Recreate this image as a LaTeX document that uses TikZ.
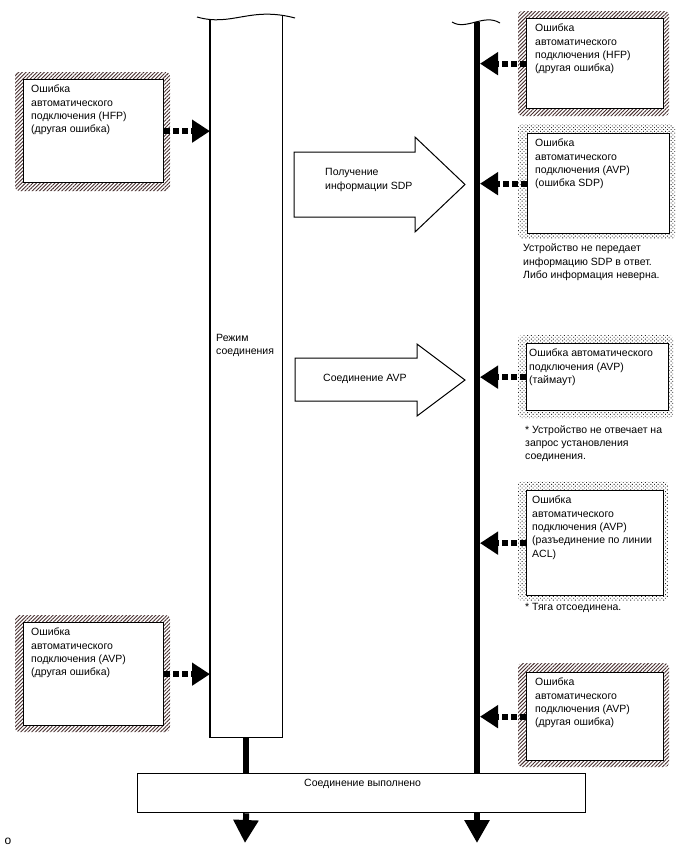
\documentclass[tikz,border=0pt]{standalone}
\usepackage{fontspec}
\setmainfont{Liberation Sans}
\usetikzlibrary{arrows.meta,patterns.meta,calc}
\definecolor{hatchc}{RGB}{70,45,45}
\begin{document}
\begin{tikzpicture}[x=1pt,y=-1pt,
  every node/.style={font=\fontsize{10.5}{13.3}\selectfont},
  ebox/.style={draw, line width=1.3pt, fill=white, anchor=north west, inner sep=0pt},
  txt/.style={anchor=north west, inner sep=0pt, align=left},
  hatch/.style={pattern={Lines[angle=45,distance=2.6pt,line width=0.9pt]}, pattern color=hatchc, rounded corners=4pt},
  dotfill/.style={pattern={Dots[angle=45,distance=2.6pt,radius=0.65pt]}, pattern color=black!85, rounded corners=4pt},
  dasharrow/.style={line width=6pt, dash pattern=on 6pt off 3pt, -{Triangle[length=18pt,width=22pt]}},
  thick line/.style={line width=6pt},
  downarrow/.style={line width=6pt, -{Triangle[length=23pt,width=24pt]}},
  bigarrow/.style={draw, line width=1pt, fill=white}
]
\useasboundingbox (0,0) rectangle (688,852);

% ---- mode column
\node[anchor=north west, inner sep=0pt, minimum width=72pt, minimum height=717pt] (mode) at (210,20) {};
\draw[line width=1.3pt] (mode.north west) -- (mode.south west) -- (mode.south east) -- ($(mode.north east)+(0,-5)$);
\draw[line width=1pt] (197,17) .. controls (232,27) and (250,6) .. (295,18);
\node[txt] (modet) at (216,334) {Режим\\соединения};

% ---- right thick line
\coordinate (rtop) at (477,22);
\coordinate (rl) at (480,0);
\draw[line width=1pt] (452,22) .. controls (466,31) and (484,13) .. (500,23);

% ---- bottom box
\node[ebox, minimum width=448pt, minimum height=39pt] (done) at (137,773) {};
\node[anchor=north, inner sep=0pt] (donet) at ($(done.north)+(1,6)$) {Соединение выполнено};

\draw[thick line] (mode.south) -- (mode.south |- done.north);
\draw[thick line] (rtop) -- (rtop |- done.north);
\draw[downarrow] (mode.south |- done.south) -- (245,843);
\draw[downarrow] (rtop |- done.south) -- (477,843);

% ---- big hollow arrows
\draw[bigarrow] (294,152) -- (415,152) -- (415,137) -- (465,184.5) -- (415,232) -- (415,217) -- (294,217) -- cycle;
\node[anchor=west, inner sep=0pt, align=left] (a1t) at (325,180) {Получение\\информации SDP};
\draw[bigarrow] (295,358) -- (417,358) -- (417,344) -- (465,380) -- (417,416) -- (417,401) -- (295,401) -- cycle;
\node[anchor=west, inner sep=0pt] (a2t) at (323,379) {Соединение AVP};

% ---- left boxes
\fill[hatch] (15,72) rectangle (170,191);
\node[ebox, minimum width=140pt, minimum height=103pt] (L1) at (23,79) {};
\node[txt] (L1t) at ($(L1.north west)+(8,6)$) {Ошибка\\автоматического\\подключения (HFP)\\(другая ошибка)};
\draw[dasharrow] (L1.east) -- (L1.east -| mode.west);

\fill[hatch] (15,615) rectangle (170,732);
\node[ebox, minimum width=140pt, minimum height=103pt] (L2) at (23,622) {};
\node[txt] (L2t) at ($(L2.north west)+(8,6)$) {Ошибка\\автоматического\\подключения (AVP)\\(другая ошибка)};
\draw[dasharrow] (L2.east) -- (L2.east -| mode.west);

% ---- right boxes
\fill[hatch] (518,11) rectangle (669,116);
\node[ebox, minimum width=137pt, minimum height=90pt] (R1) at (526,18) {};
\node[txt] (R1t) at ($(R1.north west)+(9,6)$) {Ошибка\\автоматического\\подключения (HFP)\\(другая ошибка)};
\draw[dasharrow] (R1.west) -- (R1.west -| rl);

\fill[dotfill] (518,124) rectangle (675,239);
\node[ebox, minimum width=142pt, minimum height=100pt] (R2) at (527,133) {};
\node[txt] (R2t) at ($(R2.north west)+(8,6)$) {Ошибка\\автоматического\\подключения (AVP)\\(ошибка SDP)};
\draw[dasharrow] (R2.west) -- (R2.west -| rl);
\node[txt] (R2n) at (523,244) {Устройство не передает\\информацию SDP в ответ.\\Либо информация неверна.};

\fill[dotfill] (518,335) rectangle (673,418);
\node[ebox, minimum width=142pt, minimum height=67pt] (R3) at (526,343) {};
\node[txt] (R3t) at ($(R3.north west)+(3,6)$) {Ошибка автоматического\\подключения (AVP)\\(таймаут)};
\draw[dasharrow] (R3.west) -- (R3.west -| rl);
\node[txt] (R3n) at (525,425) {* Устройство не отвечает на\\запрос установления\\соединения.};

\fill[dotfill] (518,481) rectangle (668,601);
\node[ebox, minimum width=137pt, minimum height=105pt] (R4) at (526,490) {};
\node[txt] (R4t) at ($(R4.north west)+(6,6)$) {Ошибка\\автоматического\\подключения (AVP)\\(разъединение по линии\\ACL)};
\draw[dasharrow] (R4.west) -- (R4.west -| rl);
\node[txt] (R4n) at (525,603) {* Тяга отсоединена.};

\fill[hatch] (518,663) rectangle (669,767);
\node[ebox, minimum width=137pt, minimum height=88pt] (R5) at (526,672) {};
\node[txt] (R5t) at ($(R5.north west)+(9,6)$) {Ошибка\\автоматического\\подключения (AVP)\\(другая ошибка)};
\draw[dasharrow] (R5.west) -- (R5.west -| rl);

% ---- corner mark
\node[inner sep=0pt, font=\fontsize{12}{14}\selectfont] (omark) at (8,841) {o};
\end{tikzpicture}
\end{document}
